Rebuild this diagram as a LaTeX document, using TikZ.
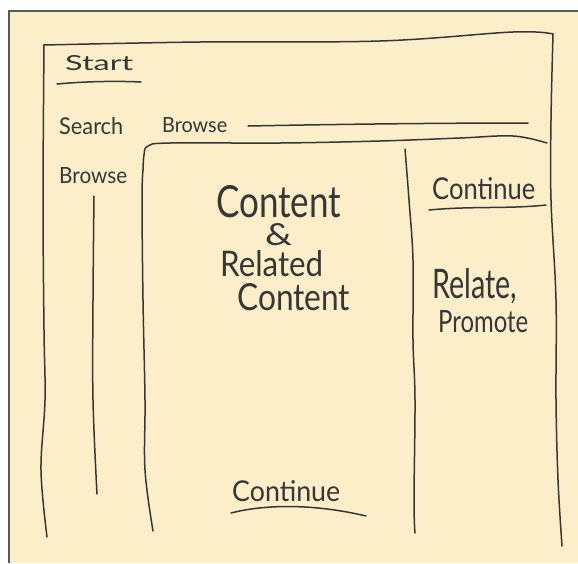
\documentclass[tikz,border=0pt]{standalone}
\usepackage{fontspec}
\setmainfont{Lato}
\usetikzlibrary{calc}
\definecolor{paper}{HTML}{FCEEC9}
\definecolor{ink}{HTML}{363636}
\definecolor{edge}{HTML}{5A5A5A}
\newcommand\fitbox[3]{\resizebox{#1pt}{#2pt}{#3}}
\begin{document}
\begin{tikzpicture}[x=1pt,y=-1pt,
  sk/.style={draw=ink, line width=1.5pt, line cap=round, line join=round},
  lbl/.style={text=ink, inner sep=0pt, anchor=base west}]
\useasboundingbox (0,0) rectangle (578,563);
\fill[paper] (9,11) rectangle (578,563);
\draw[edge, line width=1.6pt] (9,563) -- (9,11) -- (578,11);

% outer frame
\draw[sk] plot[smooth, tension=0.6] coordinates {(44,45) (200,42) (380,41) (513,32) (553,34)};
\draw[sk] plot[smooth, tension=0.6] coordinates {(553,34) (551,120) (551,200) (556,300) (556,400) (558,480) (562,546)};
\draw[sk] plot[smooth, tension=0.6] coordinates {(44,45) (43,200) (44,330) (45,400) (41,470) (47,537)};

% start underline
\draw[sk] (57,84) .. controls (90,81) and (120,81) .. (141,82);
% search/browse line
\draw[sk] (248,126) .. controls (350,124) and (450,123) .. (528,123);

% left browse column line
\draw[sk] plot[smooth, tension=0.6] coordinates {(94,196) (93,300) (93,400) (97,494)};

% content box
\draw[sk] plot[smooth, tension=0.6] coordinates {(143,170) (144,155) (148,146) (170,143) (280,143) (380,141) (460,138) (513,136) (547,143)};
\draw[sk] plot[smooth, tension=0.6] coordinates {(143,170) (142,200) (143,300) (145,400) (145,470) (153,531)};

% divider
\draw[sk] plot[smooth, tension=0.6] coordinates {(405,149) (409,200) (413,260) (413,340) (415,400) (414,500) (415,533)};

% underlines
\draw[sk] (429,210) .. controls (470,206) and (510,209) .. (546,205);
\draw[sk] (231,513) .. controls (270,503) and (320,505) .. (366,516);

% texts
\node[lbl] (start) at (65,70) {\fitbox{68}{15}{Start}};
\node[lbl] (search) at (59,134) {\fitbox{64}{17}{Search}};
\node[lbl] (browsetop) at (162,132) {\fitbox{65}{15}{Browse}};
\node[lbl] (browseleft) at (59,183) {\fitbox{68}{16}{Browse}};
\node[lbl] (content1) at (216,217) {\fitbox{125}{32}{Content}};
\node[lbl] (amp) at (265,245) {\fitbox{27}{22}{\&}};
\node[lbl] (related) at (220,276) {\fitbox{103}{26}{Related}};
\node[lbl] (content2) at (237,310) {\fitbox{113}{27}{Content}};
\node[lbl] (contright) at (432,199) {\fitbox{103}{22}{Continue}};
\node[lbl] (relate) at (432,298) {\fitbox{85}{30}{Relate,}};
\node[lbl] (promote) at (438,332) {\fitbox{90}{22}{Promote}};
\node[lbl] (contbottom) at (232,501) {\fitbox{108}{21}{Continue}};
\end{tikzpicture}
\end{document}
